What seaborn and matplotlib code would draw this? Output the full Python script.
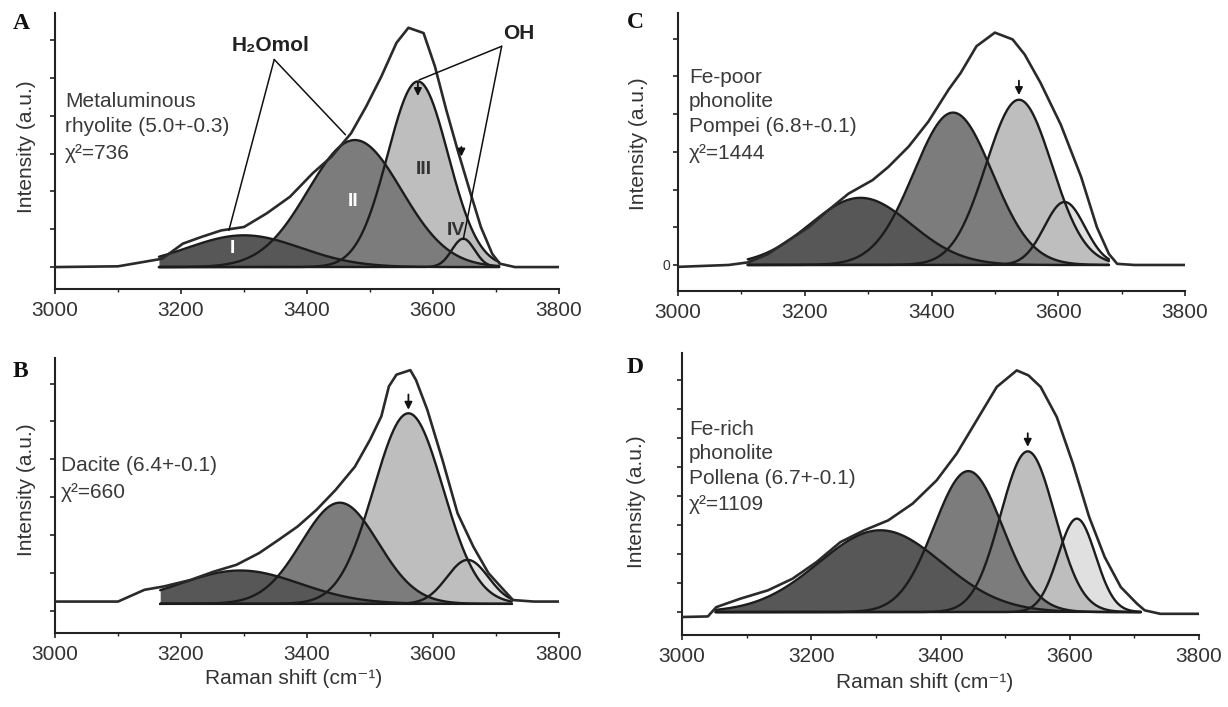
import numpy as np
import matplotlib
matplotlib.use("Agg")
import matplotlib.pyplot as plt
import seaborn as sns

# ---------------- data ----------------
x_ticks = [3000, 3200, 3400, 3600, 3800]
x_tick_labels = ["3000", "3200", "3400", "3600", "3800"]

# Gaussian components (centre cm-1, sigma cm-1, height in tick units)
A_center = [3300, 3476, 3576, 3648]
A_sigma = [90, 74, 48, 18]
A_height = [0.84, 3.36, 4.91, 0.75]
A_fit = [3165, 3705]

B_center = [3294, 3452, 3561, 3655]
B_sigma = [95, 61, 55, 33]
B_height = [0.88, 2.67, 5.03, 1.16]
B_fit = [3167, 3725]

C_center = [3288, 3434, 3538, 3610]
C_sigma = [80, 62, 52, 32]
C_height = [1.78, 4.04, 4.38, 1.67]
C_fit = [3110, 3680]

D_center = [3307, 3443, 3535, 3611]
D_sigma = [95, 53, 42, 29]
D_height = [2.82, 4.86, 5.54, 3.22]
D_fit = [3052, 3710]

A_env_x = [3000, 3100, 3170, 3203, 3233, 3264, 3300, 3336, 3373, 3409, 3439, 3470,
           3494, 3518, 3542, 3561, 3585, 3603, 3621, 3639, 3658, 3676, 3694, 3706, 3730, 3800]
A_env_y = [0, 0.02, 0.22, 0.62, 0.8, 0.97, 1.06, 1.42, 1.86, 2.48, 2.92, 3.54,
           4.25, 5.04, 5.93, 6.33, 6.19, 5.31, 4.16, 3.1, 2.04, 1.06, 0.35, 0.09, 0.0, 0.0]

B_env_x = [3000, 3100, 3142, 3173, 3215, 3252, 3288, 3324, 3355, 3385, 3415, 3445, 3476,
           3500, 3518, 3530, 3542, 3564, 3573, 3591, 3615, 3639, 3664, 3688, 3712, 3727, 3760, 3800]
B_env_y = [0.06, 0.06, 0.37, 0.46, 0.63, 0.85, 1.03, 1.34, 1.69, 2.04, 2.48, 3.0, 3.62,
           4.33, 4.95, 5.74, 6.05, 6.17, 5.91, 5.12, 3.8, 2.39, 1.51, 0.81, 0.37, 0.1, 0.06, 0.06]

C_env_x = [3000, 3080, 3111, 3142, 3174, 3206, 3237, 3269, 3307, 3332, 3364, 3395, 3427,
           3446, 3471, 3500, 3528, 3547, 3572, 3604, 3636, 3661, 3680, 3693, 3720, 3800]
C_env_y = [-0.05, 0.0, 0.07, 0.29, 0.65, 1.0, 1.45, 1.89, 2.25, 2.6, 3.14, 3.8, 4.65,
           5.09, 5.8, 6.16, 5.98, 5.58, 4.83, 3.72, 2.34, 1.0, 0.29, 0.03, 0.0, 0.0]

D_env_x = [3000, 3040, 3053, 3090, 3133, 3171, 3208, 3245, 3282, 3319, 3357, 3394, 3425, 3456,
           3487, 3518, 3536, 3555, 3580, 3605, 3630, 3654, 3679, 3704, 3716, 3740, 3800]
D_env_y = [-0.17, -0.15, 0.17, 0.46, 0.75, 1.15, 1.72, 2.41, 2.82, 3.16, 3.74, 4.54, 5.46, 6.61,
           7.76, 8.33, 8.16, 7.76, 6.72, 5.11, 3.28, 1.9, 0.86, 0.29, 0.06, -0.06, -0.06]

A_text = ["Metaluminous", "rhyolite (5.0+-0.3)", "χ²=736"]
B_text = ["Dacite (6.4+-0.1)", "χ²=660"]
C_text = ["Fe-poor", "phonolite", "Pompei (6.8+-0.1)", "χ²=1444"]
D_text = ["Fe-rich", "phonolite", "Pollena (6.7+-0.1)", "χ²=1109"]

# ---------------- style ----------------
sns.set_theme(style="ticks")
plt.rcParams["font.family"] = ["Liberation Sans", "DejaVu Sans"]

W, H = 1228, 707
fig = plt.figure(figsize=(W / 100, H / 100), dpi=100)
fill_colors = ["#575757", "#7c7c7c", "#bebebe", "#e0e0e0"]
text_col = "#3a3a3a"


def px_axes(x0, x1, ytop, ybot):
    return fig.add_axes([x0 / W, 1 - ybot / H, (x1 - x0) / W, (ybot - ytop) / H])


def ftext(px, py, s, **kw):
    fig.text(px / W, 1 - py / H, s, **kw)


def draw_panel(ax, centers, sigmas, heights, fit, env_x, env_y, ylim, yticks):
    xs = np.linspace(fit[0], fit[1], 600)
    comps = [h * np.exp(-(xs - c) ** 2 / (2 * s ** 2)) for c, s, h in zip(centers, sigmas, heights)]
    for i in reversed(range(len(comps))):
        ax.fill_between(xs, 0, comps[i], color=fill_colors[i], lw=0, zorder=2 + (3 - i) * 0.1)
    ax.plot([fit[0], fit[1]], [0, 0], color="#1e1e1e", lw=1.5, zorder=3)
    for comp in comps:
        sns.lineplot(x=xs, y=comp, ax=ax, color="#1c1c1c", lw=1.7, zorder=4,
                     estimator=None, sort=False)
    sns.lineplot(x=env_x, y=env_y, ax=ax, color="#2a2a2a", lw=1.9, zorder=5,
                 estimator=None, sort=False)
    ax.set_xlim(3000, 3800)
    ax.set_ylim(*ylim)
    ax.set_xticks(x_ticks)
    ax.set_xticklabels(x_tick_labels)
    ax.set_xticks(np.arange(3000, 3801, 100), minor=True)
    ax.set_yticks(yticks)
    ax.set_yticklabels([])
    ax.set_xlabel("")
    ax.set_ylabel("")
    for sp in ["top", "right"]:
        ax.spines[sp].set_visible(False)
    for sp in ["left", "bottom"]:
        ax.spines[sp].set_linewidth(1.5)
        ax.spines[sp].set_color("#222222")
    ax.tick_params(axis="x", which="major", direction="out", length=3.5, width=1.2,
                   color="#222222", labelsize=15, labelcolor="#333333", pad=5)
    ax.tick_params(axis="x", which="minor", direction="out", length=2.5, width=1.0, color="#222222")
    ax.tick_params(axis="y", which="major", direction="out", length=3.5, width=1.2, color="#222222")
    ax.patch.set_alpha(0)


def arrow(ax, x, y_tail, y_tip):
    ax.annotate("", xy=(x, y_tip), xytext=(x, y_tail),
                arrowprops=dict(arrowstyle="-|>", color="#111111", lw=1.3, mutation_scale=11),
                zorder=8)


# ---------------- panels ----------------
axA = px_axes(55, 559, 13, 289)
draw_panel(axA, A_center, A_sigma, A_height, A_fit, A_env_x, A_env_y,
           (-0.58, 6.72), list(range(0, 7)))
axB = px_axes(55, 559, 358, 633)
draw_panel(axB, B_center, B_sigma, B_height, B_fit, B_env_x, B_env_y,
           (-0.77, 6.49), [k - 0.185 for k in range(0, 7)])
axC = px_axes(678, 1185, 13, 291)
draw_panel(axC, C_center, C_sigma, C_height, C_fit, C_env_x, C_env_y,
           (-0.69, 6.68), list(range(0, 7)))
axC.set_yticklabels(["0", "", "", "", "", "", ""])
axC.tick_params(axis="y", labelsize=10, labelcolor="#333333", pad=2)
axD = px_axes(682, 1199, 353, 635)
draw_panel(axD, D_center, D_sigma, D_height, D_fit, D_env_x, D_env_y,
           (-0.79, 8.93), list(range(0, 9)))

# arrows at peak III
arrow(axA, 3576, 4.95, 4.45)
arrow(axA, 3645, 3.25, 2.85)
arrow(axB, 3561, 5.6, 5.05)
arrow(axC, 3538, 4.96, 4.43)
arrow(axD, 3535, 6.26, 5.6)

# panel A annotations
lk = dict(color="#111111", lw=1.1, zorder=7)
axA.plot([3348, 3276], [5.49, 0.97], **lk)
axA.plot([3348, 3461], [5.49, 3.5], **lk)
axA.plot([3709, 3578], [5.84, 4.95], **lk)
axA.plot([3709, 3648], [5.84, 0.73], **lk)
axA.text(3342, 5.87, "H₂Omol", ha="center", va="center", fontsize=15, fontweight="bold",
         color="#222222", family=["Liberation Sans", "DejaVu Sans"], zorder=9)
axA.text(3736, 6.19, "OH", ha="center", va="center", fontsize=15, fontweight="bold",
         color="#222222", zorder=9)
axA.text(3282, 0.49, "I", ha="center", va="center", fontsize=14, fontweight="bold", color="white", zorder=9)
axA.text(3473, 1.73, "II", ha="center", va="center", fontsize=14, fontweight="bold", color="white", zorder=9)
axA.text(3585, 2.57, "III", ha="center", va="center", fontsize=14, fontweight="bold", color="#333333", zorder=9)
axA.text(3636, 0.98, "IV", ha="center", va="center", fontsize=14, fontweight="bold", color="#333333", zorder=9)

# sample descriptions (baselines in pixels)
for s, yb in zip(A_text, [107, 132, 159]):
    ftext(65, yb, s, fontsize=15, color=text_col, va="baseline", ha="left")
for s, yb in zip(B_text, [471, 498]):
    ftext(61, yb, s, fontsize=15, color=text_col, va="baseline", ha="left")
for s, yb in zip(C_text, [83, 107, 132, 159]):
    ftext(689, yb, s, fontsize=15, color=text_col, va="baseline", ha="left")
for s, yb in zip(D_text, [435, 459, 484, 510]):
    ftext(689, yb, s, fontsize=15, color=text_col, va="baseline", ha="left")

# axis titles
for (px, py) in [(26, 147), (26, 490), (638, 144), (637, 502)]:
    ftext(px, py, "Intensity (a.u.)", fontsize=15, color="#333333", rotation=90,
          ha="center", va="center")
ftext(294, 678, "Raman shift (cm⁻¹)", fontsize=15, color="#333333", ha="center", va="center",
      family=["Liberation Sans", "DejaVu Sans"])
ftext(925, 682, "Raman shift (cm⁻¹)", fontsize=15, color="#333333", ha="center", va="center",
      family=["Liberation Sans", "DejaVu Sans"])

# panel letters
for s, (px, py) in zip("ABCD", [(13, 29), (13, 377), (627, 28), (627, 373)]):
    ftext(px, py, s, fontsize=17, fontweight="bold", family=["Liberation Serif"],
          color="#111111", va="baseline", ha="left")

fig.savefig("out.png", dpi=100)
